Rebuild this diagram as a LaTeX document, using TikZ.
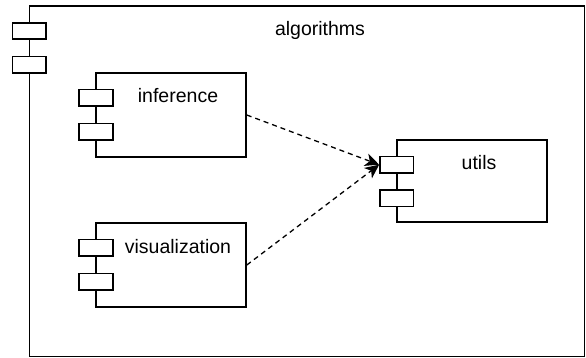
\documentclass[tikz,border=0pt]{standalone}
\usepackage{fontspec}
\setmainfont{Liberation Sans}
\usetikzlibrary{arrows.meta}

\begin{document}
\begin{tikzpicture}[x=1pt,y=-1pt,line width=1.6pt]
\tikzstyle comp=[draw,rectangle,inner sep=0,minimum width=150,minimum height=83.5]
\tikzstyle port=[draw,rectangle,fill=white,inner sep=0,minimum width=33.5,minimum height=16.5]
\tikzstyle txt=[font=\fontsize{19.5}{23}\selectfont,inner sep=0]
\tikzstyle uses=[dash pattern=on 5pt off 4pt,line width=1.3pt,
    -{Stealth[length=14pt,width=13pt,inset=4pt]}]
 \useasboundingbox (0,0) rectangle (586,358);
 % package
 \node[comp,minimum width=555,minimum height=350.5] (algorithms) at (307,181.25) {};
 \node[port] (algorithmsport1) at (29.4,31) {};
 \node[port] (algorithmsport2) at (29.4,64.7) {};
 \node[txt] (algorithmslabel) at (320,30) {algorithms};
 % components
 \node[comp] (inference) at (171,115) {};
 \node[port] (inferenceport1) at (96,97.7) {};
 \node[port] (inferenceport2) at (96,131.7) {};
 \node[txt] (inferencelabel) at (178,96) {inference};
 \node[comp] (visualization) at (171,265) {};
 \node[port] (visualizationport1) at (96,247.7) {};
 \node[port] (visualizationport2) at (96,281.7) {};
 \node[txt] (visualizationlabel) at (178,246.7) {visualization};
 \node[comp,minimum height=82] (utils) at (471.7,181) {};
 \node[port] (utilsport1) at (396.7,164.7) {};
 \node[port] (utilsport2) at (396.7,198.3) {};
 \node[txt] (utilslabel) at (479,163) {utils};
 % dependencies
 \draw[uses] (inference.east) -- (utilsport1.west);
 \draw[uses] (visualization.east) -- (utilsport1.west);
\end{tikzpicture}
\end{document}
